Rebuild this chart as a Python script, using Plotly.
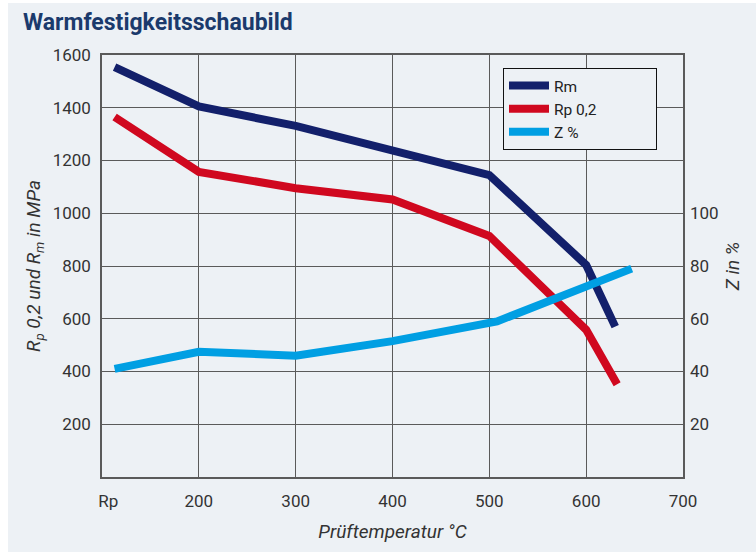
import plotly.graph_objects as go

# Data
temps = [113, 200, 300, 400, 500, 600, 630]
rm = [1554, 1405, 1331, 1235, 1145, 804, 570]
rp_temps = [113, 200, 300, 400, 500, 600, 632]
rp02 = [1365, 1157, 1095, 1052, 914, 558, 352]
z_temps = [113, 200, 300, 400, 508, 600, 647]
z_pct = [41, 47.5, 46, 51.5, 59, 72, 79]

x_ticks = [100, 200, 300, 400, 500, 600, 700]
x_ticktext = ["\u00a0\u00a0\u00a0Rp", "200", "300", "400", "500", "600", "700"]
y_ticks = [200, 400, 600, 800, 1000, 1200, 1400, 1600]
y2_ticks = [20, 40, 60, 80, 100]

BG = "#edf1f5"
GRID = "#5a5a5a"
TXT = "#333333"
FONT = "Roboto, sans-serif"
PAD = "\u00a0" * 14

fig = go.Figure()
fig.add_trace(go.Scatter(x=temps, y=rm, mode="lines", name="Rm",
                         line=dict(color="#13206b", width=8)))
fig.add_trace(go.Scatter(x=rp_temps, y=rp02, mode="lines", name="Rp 0,2" + PAD,
                         line=dict(color="#d0081f", width=8)))
fig.add_trace(go.Scatter(x=z_temps, y=z_pct, mode="lines", name="Z %", yaxis="y2",
                         line=dict(color="#009fe3", width=8)))

W, H = 756, 552
L, R, T, B = 102, 683, 55, 477.5
pw, ph = R - L, B - T

def px(xp):
    return (xp - L) / pw

def py(yp):
    return (B - yp) / ph

fig.update_layout(
    template="none",
    width=W, height=H,
    margin=dict(l=L, r=W - R, t=T, b=H - B, pad=0, autoexpand=False),
    paper_bgcolor="white",
    plot_bgcolor=BG,
    font=dict(family=FONT, size=17, color=TXT),
    showlegend=True,
    legend=dict(x=px(503), y=py(68), xanchor="left", yanchor="top",
                bgcolor=BG, bordercolor="#111111", borderwidth=1,
                font=dict(family=FONT, size=15.5, color="#222"),
                tracegroupgap=0, itemwidth=40),
    xaxis=dict(range=[100, 700], tickvals=x_ticks, ticktext=x_ticktext,
               showgrid=True, gridcolor=GRID, gridwidth=1.2,
               showline=True, linecolor=GRID, linewidth=1.5, mirror=True,
               zeroline=False, ticks="", ticklabelstandoff=8, automargin=False,
               title=dict(text="<i>Prüftemperatur °C</i>", standoff=15,
                          font=dict(family=FONT, size=19, color=TXT))),
    yaxis=dict(range=[0, 1600], tickvals=y_ticks,
               showgrid=True, gridcolor=GRID, gridwidth=1.2,
               showline=True, linecolor=GRID, linewidth=1.5, mirror=True,
               zeroline=False, ticks="", ticklabelstandoff=6, automargin=False,
               title=dict(text="<i>R<sub>p</sub> 0,2 und R<sub>m</sub> in MPa</i>", standoff=7,
                          font=dict(family=FONT, size=19, color=TXT))),
    yaxis2=dict(range=[0, 160], tickvals=y2_ticks, overlaying="y", side="right",
                showgrid=False, zeroline=False, showline=False, ticks="",
                ticklabelstandoff=6, automargin=False,
                title=dict(text="<i>Z in %</i>", standoff=8,
                           font=dict(family=FONT, size=19, color=TXT))),
    shapes=[
        dict(type="rect", xref="paper", yref="paper", x0=px(8), x1=px(W + 5),
             y0=py(H + 5), y1=py(3), fillcolor=BG, line=dict(width=0), layer="below"),
    ],
    annotations=[
        dict(text="<b>Warmfestigkeitsschaubild</b>", xref="paper", yref="paper",
             x=px(21), y=py(22), xanchor="left", yanchor="middle", showarrow=False,
             font=dict(family=FONT, size=23, color="#1b3a6c")),
    ],
)

fig.write_html("out.html", config={"displayModeBar": False},
               post_script="document.body.style.margin='0px';document.body.style.overflow='hidden';")
